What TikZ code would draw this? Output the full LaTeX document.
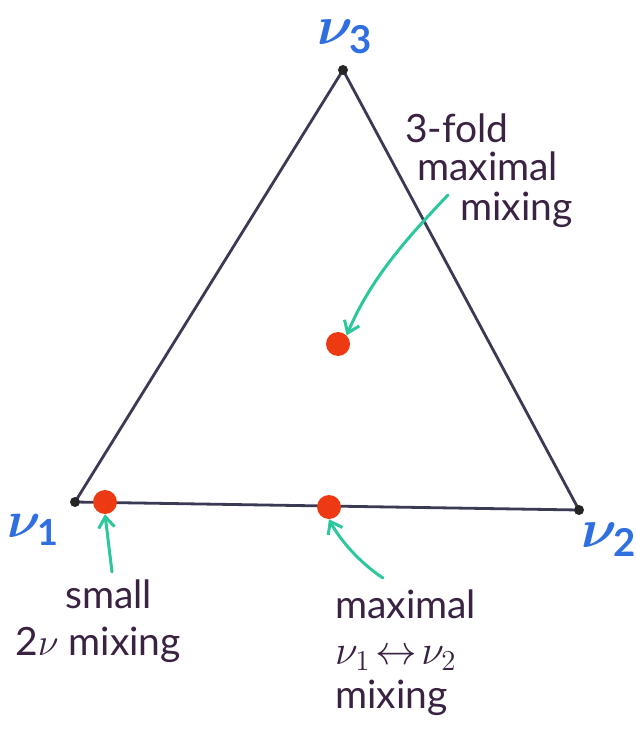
\documentclass[tikz,border=0pt]{standalone}
\usepackage{amsmath,bm}
\usepackage{graphicx}
\usepackage{fontspec}
\setmainfont{Lato}
\usetikzlibrary{arrows.meta}
\definecolor{nublue}{HTML}{2F6FE0}
\definecolor{dotred}{HTML}{EE3A12}
\definecolor{arrowgreen}{HTML}{2CC79C}
\definecolor{ink}{HTML}{3A2242}
\definecolor{edge}{HTML}{3A3A55}
\newcommand{\mybigmath}[2]{\scalebox{#1}{\fontsize{17.28}{18}\selectfont$#2$}}
\tikzset{
  edgeline/.style={draw=edge, line width=2.8pt, line join=round},
  vertexdot/.style={circle, fill=black!85, inner sep=0pt, minimum size=10pt},
  reddot/.style={circle, fill=dotred, inner sep=0pt, minimum size=24pt},
  nulabel/.style={text=nublue, inner sep=0pt},
  note/.style={text=ink, font=\fontsize{39}{40}\selectfont, inner sep=0pt, anchor=base west},
  pointer/.style={draw=arrowgreen, line width=3pt, line cap=round,
    -{Straight Barb[length=11pt,width=16pt,line width=3pt]}}
}
\begin{document}
\begin{tikzpicture}[x=1pt,y=-1pt]
\useasboundingbox (0,0) rectangle (636,738);
% triangle
\coordinate (c1) at (75,502);
\coordinate (c2) at (579,510);
\coordinate (c3) at (343,70);
\draw[edgeline] (c1) -- (c2) -- (c3) -- cycle;
\node[vertexdot] (v1) at (c1) {};
\node[vertexdot] (v2) at (c2) {};
\node[vertexdot] (v3) at (c3) {};
% labels of vertices
\node[nulabel] (l3) at (345,37) {\mybigmath{3.2}{\boldsymbol{\nu}_{\mathbf{3}}}};
\node[nulabel] (l1) at (34,530) {\mybigmath{3.0}{\boldsymbol{\nu}_{\mathbf{1}}}};
\node[nulabel] (l2) at (609,540) {\mybigmath{3.2}{\boldsymbol{\nu}_{\mathbf{2}}}};
% red dots
\node[reddot] (pcenter) at (338,344) {};
\node[reddot] (psmall) at (105,502) {};
\node[reddot] (pmid) at (329,507) {};
% texts
\node[note] (t3a) at (405,143) {3-fold};
\node[note] (t3b) at (417,181) {maximal};
\node[note] (t3c) at (460,220) {mixing};
\node[note] (tsa) at (65,608) {small};
\node[note] (tsb) at (15,655) {2\mybigmath{2.2}{\nu} mixing};
\node[note] (tma) at (335,618) {maximal};
\node[note] (tmb) at (335,664) {\mybigmath{2.4}{\nu_1\!\leftrightarrow\!\nu_2}};
\node[note] (tmc) at (335,708) {mixing};
% arrows
\coordinate (s1) at (448,195);
\coordinate (s2) at (112,572);
\coordinate (s3) at (383,578);
\draw[pointer] (s1) .. controls (405,240) and (370,280) .. (pcenter.north east);
\draw[pointer] (s2) -- (psmall.south);
\draw[pointer] (s3) .. controls (360,563) and (340,540) .. (pmid.south);
\end{tikzpicture}
\end{document}
